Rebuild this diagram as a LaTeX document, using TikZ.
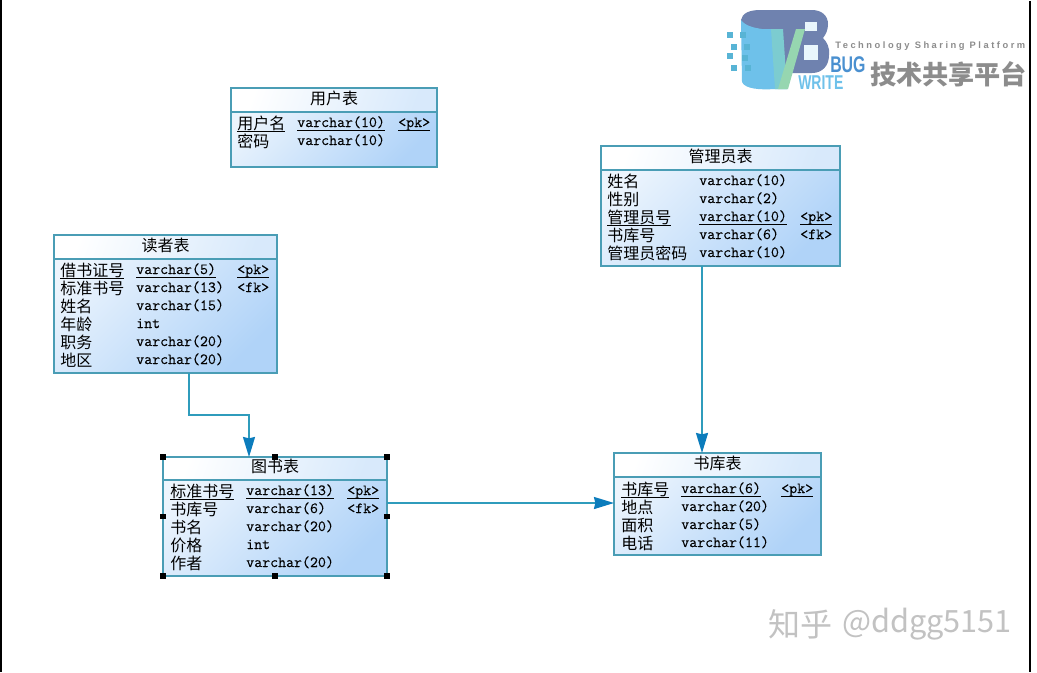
\documentclass[tikz,border=0pt]{standalone}
\usepackage{fontspec}
\newfontfamily\cjk{Noto Sans CJK SC}
\newfontfamily\logospaced[LetterSpace=27]{Liberation Sans}
\newfontfamily\logosans[FakeStretch=0.7]{Liberation Sans}
\setmonofont[FakeBold=0.3]{Latin Modern Mono}
\usetikzlibrary{arrows.meta}

\definecolor{biankuang}{HTML}{4A9DB5}
\definecolor{lianxian}{HTML}{2F9CBC}
\definecolor{jiantou}{HTML}{0B7CBC}
\definecolor{qianlan}{HTML}{EDF5FD}
\definecolor{shenlan}{HTML}{B0D3F8}
\definecolor{shuiyin}{HTML}{C2C2C2}
\definecolor{logohui}{HTML}{8C8C8C}
\definecolor{logoshen}{HTML}{6F82AF}
\definecolor{logoqian}{HTML}{6EC1EA}
\definecolor{logoqing}{HTML}{7CCCD0}
\definecolor{logolv}{HTML}{96D6B0}
\definecolor{logobug}{HTML}{4A90D0}

\newcommand{\xiahua}[2][1.1pt]{\underline{\smash{#2}\rule[-#1]{0pt}{0pt}}}

\tikzset{
	biaoti/.style 2 args={draw=biankuang,line width=0.95pt,rectangle,inner sep=0,outer sep=0,minimum width=#1*0.75pt,minimum height=#2*0.75pt,top color=white,bottom color=qianlan!65!shenlan,shading angle=70,text height=9pt,text depth=2.8pt,font=\cjk\fontsize{12}{12}\selectfont},
	biaoshen/.style 2 args={draw=biankuang,line width=0.95pt,rectangle,inner sep=0,outer sep=0,minimum width=#1*0.75pt,minimum height=#2*0.75pt,top color=qianlan,bottom color=shenlan,shading angle=45},
	ziduan/.style={anchor=base west,inner sep=0,yshift=-4.5pt,font=\cjk\fontsize{12}{12}\selectfont},
	leixing/.style={anchor=base west,inner sep=0,yshift=-3pt,font=\ttfamily\fontsize{11.6}{12}\selectfont},
	lianjie/.style={draw=lianxian,line width=1.2pt,-{Stealth[length=15pt,width=9pt,inset=1pt,color=jiantou]}},
	kongdian/.style={fill=black,rectangle,inner sep=0,outer sep=0,minimum size=4pt},
	logofang/.style={fill=logoqian!80!teal,rectangle,inner sep=0,minimum size=4pt}
}

\begin{document}
\begin{tikzpicture}[x=0.75pt,y=-0.75pt]
	\useasboundingbox (0,0) rectangle (1037,672);
	\fill[white] (0,0) rectangle (1037,672);
	\draw[black,line width=0.9pt] (1,0) -- (1,672);
	\draw[black,line width=0.9pt] (1030,1) -- (1030,672);

	% yonghu
	\node[biaoshen={206}{79}] (yonghu) at (334,127.5) {};
	\node[biaoti={206}{24}] (yonghut) at (334,100) {用户表};
	\node[ziduan] (y1a) at (237,123) {\xiahua[0pt]{用户名}};
	\node[leixing] (y1b) at (297,123) {\xiahua{varchar(10)}};
	\node[leixing] (y1c) at (398,123) {\xiahua{<pk>}};
	\node[ziduan] (y2a) at (237,141) {密码};
	\node[leixing] (y2b) at (297,141) {varchar(10)};

	% guanliyuan
	\node[biaoshen={239}{120}] (guanli) at (720.5,206) {};
	\node[biaoti={239}{24}] (guanlit) at (720.5,158) {管理员表};
	\node[ziduan] (g1a) at (607,181) {姓名};
	\node[leixing] (g1b) at (699,181) {varchar(10)};
	\node[ziduan] (g2a) at (607,199) {性别};
	\node[leixing] (g2b) at (699,199) {varchar(2)};
	\node[ziduan] (g3a) at (607,217) {\xiahua[0pt]{管理员号}};
	\node[leixing] (g3b) at (699,217) {\xiahua{varchar(10)}};
	\node[leixing] (g3c) at (800,217) {\xiahua{<pk>}};
	\node[ziduan] (g4a) at (607,235) {书库号};
	\node[leixing] (g4b) at (699,235) {varchar(6)};
	\node[leixing] (g4c) at (800,235) {<fk>};
	\node[ziduan] (g5a) at (607,253) {管理员密码};
	\node[leixing] (g5b) at (699,253) {varchar(10)};

	% duzhe
	\node[biaoshen={223}{138}] (duzhe) at (165.5,304) {};
	\node[biaoti={223}{24}] (duzhet) at (165.5,247) {读者表};
	\node[ziduan] (d1a) at (60,270) {\xiahua[0pt]{借书证号}};
	\node[leixing] (d1b) at (136,270) {\xiahua{varchar(5)}};
	\node[leixing] (d1c) at (237,270) {\xiahua{<pk>}};
	\node[ziduan] (d2a) at (60,288) {标准书号};
	\node[leixing] (d2b) at (136,288) {varchar(13)};
	\node[leixing] (d2c) at (237,288) {<fk>};
	\node[ziduan] (d3a) at (60,306) {姓名};
	\node[leixing] (d3b) at (136,306) {varchar(15)};
	\node[ziduan] (d4a) at (60,324) {年龄};
	\node[leixing] (d4b) at (136,324) {int};
	\node[ziduan] (d5a) at (60,342) {职务};
	\node[leixing] (d5b) at (136,342) {varchar(20)};
	\node[ziduan] (d6a) at (60,360) {地区};
	\node[leixing] (d6b) at (136,360) {varchar(20)};

	% tushu
	\node[biaoshen={224}{119}] (tushu) at (275,516.5) {};
	\node[biaoti={224}{23}] (tushut) at (275,468.5) {图书表};
	\node[ziduan] (t1a) at (170,491) {\xiahua[0pt]{标准书号}};
	\node[leixing] (t1b) at (246,491) {\xiahua{varchar(13)}};
	\node[leixing] (t1c) at (347,491) {\xiahua{<pk>}};
	\node[ziduan] (t2a) at (170,509) {书库号};
	\node[leixing] (t2b) at (246,509) {varchar(6)};
	\node[leixing] (t2c) at (347,509) {<fk>};
	\node[ziduan] (t3a) at (170,527) {书名};
	\node[leixing] (t3b) at (246,527) {varchar(20)};
	\node[ziduan] (t4a) at (170,545) {价格};
	\node[leixing] (t4b) at (246,545) {int};
	\node[ziduan] (t5a) at (170,563) {作者};
	\node[leixing] (t5b) at (246,563) {varchar(20)};
	\node[kongdian] (k1) at (tushu.north west) {};
	\node[kongdian] (k2) at (tushu.north) {};
	\node[kongdian] (k3) at (tushu.north east) {};
	\node[kongdian] (k4) at (tushu.west) {};
	\node[kongdian] (k5) at (tushu.east) {};
	\node[kongdian] (k6) at (tushu.south west) {};
	\node[kongdian] (k7) at (tushu.south) {};
	\node[kongdian] (k8) at (tushu.south east) {};

	% shuku
	\node[biaoshen={207}{102}] (shuku) at (717.5,504) {};
	\node[biaoti={207}{24}] (shukut) at (717.5,465) {书库表};
	\node[ziduan] (s1a) at (621,489) {\xiahua[0pt]{书库号}};
	\node[leixing] (s1b) at (681,489) {\xiahua{varchar(6)}};
	\node[leixing] (s1c) at (781,489) {\xiahua{<pk>}};
	\node[ziduan] (s2a) at (621,507) {地点};
	\node[leixing] (s2b) at (681,507) {varchar(20)};
	\node[ziduan] (s3a) at (621,525) {面积};
	\node[leixing] (s3b) at (681,525) {varchar(5)};
	\node[ziduan] (s4a) at (621,543) {电话};
	\node[leixing] (s4b) at (681,543) {varchar(11)};

	\coordinate (c1) at (189,373);
	\coordinate (c2) at (249,457);
	\coordinate (c3) at (702,266);
	\coordinate (c4) at (702,453);
	\coordinate (c5) at (387,503);
	\coordinate (c6) at (614,503);
	\draw[lianjie] (c1) -- ++(0,42) -| (c2);
	\draw[lianjie] (c3) -- (c4);
	\draw[lianjie] (c5) -- (c6);

	% logo
	\fill[logoshen] (741,20) .. controls (742,13) and (750,10) .. (760,10) -- (812,10) .. controls (822,10) and (828,16) .. (828,24) .. controls (828,30) and (826,34) .. (823,38) .. controls (827,42) and (830,48) .. (829,55) .. controls (829,66) and (822,73) .. (812,73) -- (775,73) -- (762,29) .. controls (755,29) and (741,27) .. (741,20) -- cycle;
	\fill[logoqian] (741,20) .. controls (745,26) and (755,28) .. (762,29) -- (771,29) -- (787,89) -- (775,89) .. controls (760,90) and (745,89) .. (742,82) -- cycle;
	\fill[white!85!logoqian] (805,22) rectangle (817,31);
	\fill[white!85!logoqian] (804,45) rectangle (818,60);
	\fill[logoqing] (771,29) -- (783,29) -- (787,89) -- (775,89) -- cycle;
	\fill[logolv] (796,29) -- (805,29) -- (788,89) -- (778,89) -- cycle;
	\node[logofang] (f1) at (730,35) {};
	\node[logofang] (f2) at (743,35) {};
	\node[logofang] (f3) at (734,47) {};
	\node[logofang] (f4) at (747,47) {};
	\node[logofang] (f5) at (730,56) {};
	\node[logofang] (f6) at (745,58) {};
	\node[logofang] (f7) at (734,68) {};
	\node[logofang] (f8) at (748,68) {};
	\node[anchor=west,inner sep=0,text=logohui,font=\logospaced\bfseries\fontsize{7}{8}\selectfont] (tsp) at (835,46) {Technology Sharing Platform};
	\node[anchor=west,inner sep=0,text=logohui,font=\cjk\bfseries\fontsize{19.6}{20}\selectfont] (jishu) at (870,74) {技术共享平台};
	\node[anchor=west,inner sep=0,text=logobug,font=\logosans\bfseries\fontsize{17}{18}\selectfont] (bug) at (830,65) {BUG};
	\node[anchor=west,inner sep=0,text=logoqian,font=\logosans\bfseries\fontsize{15}{16}\selectfont] (wrt) at (798,83) {WRITE};

	% shuiyin
	\node[anchor=west,inner sep=0,text=shuiyin,font=\cjk\fontsize{24}{24}\selectfont] (zhihu) at (768,624) {知乎};
	\node[anchor=west,inner sep=0,text=shuiyin,font=\cjk\fontsize{23}{24}\selectfont] (ddgg) at (842,624) {@ddgg5151};
\end{tikzpicture}
\end{document}
